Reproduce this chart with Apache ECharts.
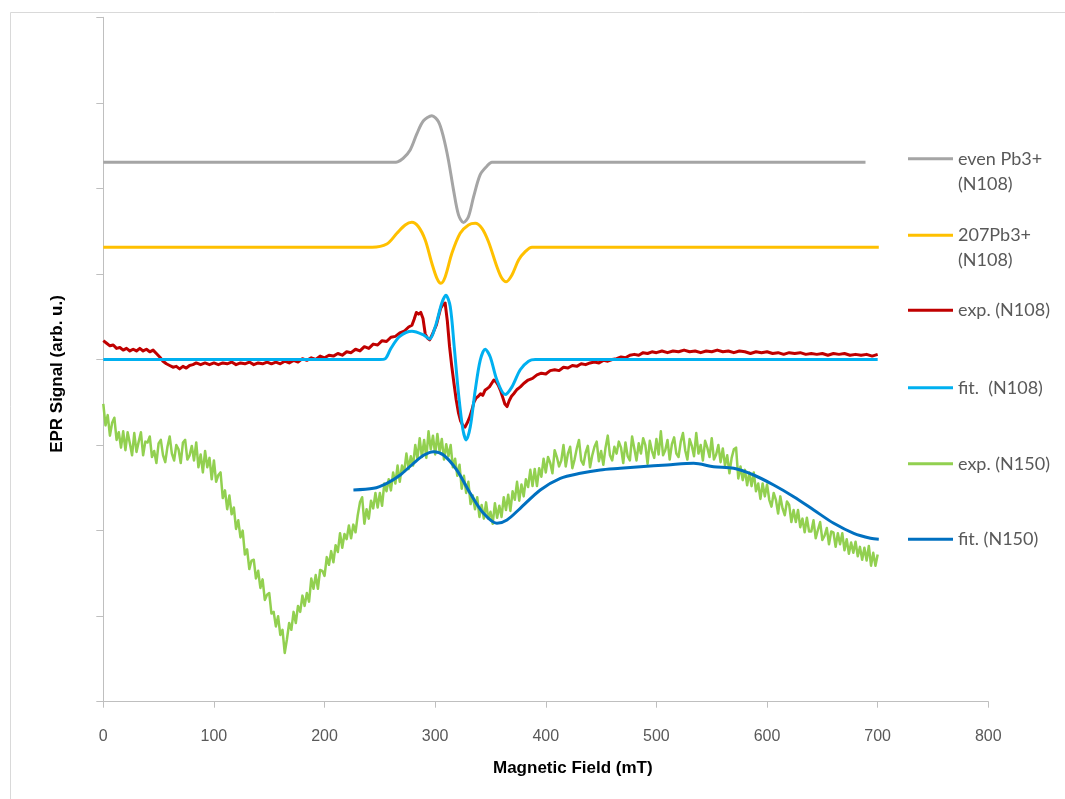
<!DOCTYPE html>
<html>
<head>
<meta charset="utf-8">
<script src="https://cdn.jsdelivr.net/npm/echarts@6/dist/echarts.min.js"></script>
<style>
  html, body { margin: 0; padding: 0; background: #ffffff; }
  #chart { width: 1065px; height: 799px; }
</style>
</head>
<body>
<div id="chart"></div>
<script>
// Magnetic field (mT) and EPR signal (arb. u.) for each trace.

// even Pb3+ simulation (N108)
const evenField  = [0, 262, 266, 271, 277.4, 283.5, 289.4, 297, 303, 307.5, 312, 316.6, 321.1, 325.6, 330.1, 334.7, 340.7, 346.8, 351.3, 689];
const evenSignal = [6.305, 6.305, 6.31, 6.35, 6.45, 6.64, 6.79, 6.85, 6.78, 6.60, 6.33, 5.98, 5.69, 5.60, 5.67, 5.90, 6.16, 6.26, 6.305, 6.305];

// 207Pb3+ simulation (N108)
const pb207Field  = [0, 243, 256.3, 265.4, 272.9, 278.9, 284.9, 291, 297, 301.6, 305.2, 309.1, 315.1, 322.6, 330.1, 336.2, 342.3, 348.2, 355.8, 360.3, 364.2, 369.4, 375.4, 381.4, 387.5, 701];
const pb207Signal = [5.312, 5.312, 5.35, 5.475, 5.572, 5.604, 5.552, 5.397, 5.125, 4.949, 4.891, 4.968, 5.241, 5.475, 5.572, 5.592, 5.534, 5.377, 5.085, 4.949, 4.909, 4.988, 5.163, 5.26, 5.312, 5.312];

// measured spectrum (N108)
const expN108Field = [
  0, 3, 6, 9, 12, 15, 18, 21, 24, 27, 30, 33, 36, 39, 42, 45, 48, 51, 54, 57,
  60, 63, 66, 69, 72, 75, 78, 81, 84, 88, 92, 96, 100, 104, 108, 112, 116, 120, 124, 128,
  132, 136, 140, 144, 148, 152, 156, 160, 164, 168, 172, 176, 180, 184, 188, 192, 196, 200, 204, 208,
  212, 216, 220, 224, 228, 232, 236, 240, 244, 248, 252, 256, 260, 264, 268, 272, 276, 279, 281, 283,
  285, 287, 289, 291, 293, 295, 297, 299, 301, 303, 305, 307, 309, 311, 313, 315, 317, 319, 321, 323,
  325, 327, 329, 331, 333, 335, 337, 339, 341, 343, 345, 347, 349, 351, 353, 355, 357, 359, 361, 363,
  365, 367, 369, 371, 374, 377, 380, 384, 388, 392, 396, 400, 404, 408, 412, 416, 420, 424, 428, 432,
  436, 440, 444, 448, 452, 456, 460, 464, 468, 472, 476, 480, 484, 488, 492, 496, 500, 505, 510, 515,
  520, 525, 530, 535, 540, 545, 550, 555, 560, 565, 570, 575, 580, 585, 590, 595, 600, 605, 610, 615,
  620, 625, 630, 635, 640, 645, 650, 655, 660, 665, 670, 675, 680, 685, 690, 695, 700
];
const expN108Signal = [
  4.22, 4.19, 4.16, 4.17, 4.13, 4.14, 4.11, 4.13, 4.10, 4.12, 4.10, 4.13, 4.10, 4.12, 4.09, 4.11, 4.07, 4.03, 3.98, 3.95,
  3.93, 3.91, 3.92, 3.89, 3.92, 3.90, 3.93, 3.94, 3.96, 3.94, 3.96, 3.94, 3.96, 3.94, 3.96, 3.95, 3.97, 3.94, 3.96, 3.95,
  3.97, 3.94, 3.96, 3.95, 3.97, 3.95, 3.97, 3.95, 3.98, 3.96, 3.99, 3.97, 4.01, 3.99, 4.02, 4.00, 4.04, 4.02, 4.05, 4.04,
  4.07, 4.05, 4.09, 4.08, 4.12, 4.10, 4.15, 4.13, 4.18, 4.17, 4.22, 4.21, 4.26, 4.27, 4.31, 4.33, 4.38, 4.40, 4.47, 4.55,
  4.53, 4.55, 4.48, 4.30, 4.25, 4.23, 4.28, 4.34, 4.40, 4.50, 4.60, 4.64, 4.66, 4.45, 4.15, 3.92, 3.72, 3.53, 3.38, 3.28,
  3.23, 3.21, 3.26, 3.32, 3.40, 3.50, 3.55, 3.57, 3.60, 3.58, 3.64, 3.66, 3.68, 3.72, 3.76, 3.74, 3.70, 3.64, 3.56, 3.48,
  3.45, 3.52, 3.57, 3.60, 3.65, 3.68, 3.72, 3.76, 3.78, 3.82, 3.84, 3.83, 3.87, 3.88, 3.87, 3.91, 3.90, 3.93, 3.92, 3.95,
  3.94, 3.96, 3.97, 3.96, 3.99, 3.98, 4.00, 4.01, 4.03, 4.02, 4.05, 4.06, 4.05, 4.08, 4.07, 4.09, 4.08, 4.10, 4.08, 4.10,
  4.09, 4.11, 4.09, 4.10, 4.08, 4.10, 4.09, 4.11, 4.09, 4.10, 4.08, 4.10, 4.09, 4.07, 4.09, 4.08, 4.09, 4.07, 4.08, 4.06,
  4.08, 4.07, 4.08, 4.06, 4.07, 4.06, 4.07, 4.05, 4.07, 4.06, 4.07, 4.05, 4.06, 4.05, 4.06, 4.04, 4.06
];

// fitted spectrum (N108)
const fitN108Field  = [0, 250, 255, 260, 268, 279, 289, 295, 300, 306, 309.7, 313.6, 317.2, 321.1, 325.1, 328.1, 331.7, 336.2, 340.7, 345.2, 349.8, 355.8, 363.3, 369.4, 376.9, 384.4, 390.5, 700];
const fitN108Signal = [4.0, 4.0, 4.01, 4.13, 4.27, 4.33, 4.29, 4.24, 4.38, 4.66, 4.75, 4.62, 4.15, 3.60, 3.18, 3.06, 3.21, 3.64, 3.99, 4.12, 4.03, 3.76, 3.59, 3.68, 3.88, 3.98, 4.0, 4.0];

// measured spectrum (N150), one reading every 2 mT from 0 to 700 mT
const expN150Start = 0;
const expN150End = 700;
const expN150Signal = [
  3.48, 3.23, 3.35, 3.11, 3.26, 3.32, 3.06, 3.15, 2.97, 3.16,
  2.94, 3.15, 3.02, 2.88, 3.14, 2.92, 3.04, 3.15, 2.88, 3.04,
  3.03, 3.10, 2.86, 2.93, 2.79, 3.02, 3.06, 2.88, 2.80, 2.98,
  3.10, 2.90, 2.82, 3.00, 2.95, 2.79, 3.03, 3.06, 2.83, 2.88,
  2.99, 2.82, 3.03, 2.74, 2.89, 2.68, 2.93, 2.74, 2.85, 2.60,
  2.82, 2.57, 2.65, 2.68, 2.38, 2.47, 2.25, 2.41, 2.19, 2.27,
  2.02, 2.12, 1.92, 2.00, 1.72, 1.78, 1.55, 1.65, 1.66, 1.44,
  1.53, 1.33, 1.43, 1.19, 1.25, 1.27, 1.03, 1.05, 0.88, 1.00,
  0.78, 0.84, 0.57, 0.73, 0.92, 0.84, 1.05, 0.92, 1.12, 1.05,
  1.24, 1.12, 1.27, 1.17, 1.44, 1.32, 1.48, 1.32, 1.54, 1.53,
  1.47, 1.69, 1.60, 1.76, 1.63, 1.83, 1.75, 1.97, 1.80, 1.96,
  1.90, 2.06, 1.91, 2.07, 1.98, 2.18, 2.33, 2.39, 2.08, 2.25,
  2.14, 2.35, 2.26, 2.44, 2.27, 2.44, 2.29, 2.55, 2.46, 2.60,
  2.47, 2.68, 2.55, 2.76, 2.57, 2.76, 2.69, 2.90, 2.72, 2.87,
  2.76, 3.00, 2.84, 3.08, 2.86, 3.06, 2.85, 3.16, 2.95, 3.11,
  2.89, 3.13, 2.92, 3.07, 2.83, 3.01, 2.87, 3.00, 2.74, 2.84,
  2.64, 2.77, 2.49, 2.64, 2.44, 2.57, 2.31, 2.41, 2.25, 2.39,
  2.16, 2.30, 2.14, 2.33, 2.14, 2.22, 2.08, 2.32, 2.15, 2.29,
  2.16, 2.39, 2.24, 2.42, 2.23, 2.46, 2.36, 2.57, 2.35, 2.54,
  2.40, 2.60, 2.51, 2.71, 2.52, 2.72, 2.52, 2.73, 2.63, 2.84,
  2.68, 2.86, 2.79, 2.67, 2.94, 2.86, 2.75, 2.82, 3.00, 2.75,
  2.90, 2.98, 2.73, 2.83, 2.96, 3.06, 2.82, 2.77, 2.91, 2.99,
  2.74, 2.88, 2.98, 3.04, 2.81, 2.93, 2.77, 2.97, 3.11, 2.88,
  2.82, 2.98, 2.90, 3.04, 2.97, 2.79, 3.03, 2.87, 2.82, 3.10,
  2.96, 2.82, 3.02, 2.90, 3.08, 3.00, 2.78, 3.05, 2.93, 2.85,
  3.07, 2.89, 3.16, 2.88, 2.94, 3.06, 2.83, 3.01, 3.09, 2.90,
  2.86, 3.04, 3.14, 2.94, 2.83, 3.07, 2.99, 2.87, 3.14, 2.90,
  3.00, 2.82, 3.05, 2.97, 2.86, 3.08, 2.83, 2.89, 3.00, 2.80,
  2.96, 2.76, 2.88, 2.67, 2.85, 2.95, 2.97, 2.61, 2.75, 2.59,
  2.71, 2.53, 2.68, 2.52, 2.68, 2.46, 2.55, 2.37, 2.55, 2.40,
  2.54, 2.36, 2.28, 2.44, 2.36, 2.20, 2.40, 2.26, 2.18, 2.34,
  2.30, 2.10, 2.24, 2.10, 2.24, 2.04, 2.14, 1.98, 2.15, 1.99,
  1.99, 2.12, 1.91, 2.01, 2.10, 1.89, 1.94, 2.03, 1.84, 1.99,
  1.98, 1.81, 1.97, 1.84, 1.97, 1.77, 1.90, 1.73, 1.86, 1.74,
  1.87, 1.70, 1.81, 1.66, 1.80, 1.65, 1.82, 1.59, 1.74, 1.59,
  1.72
];

// fitted spectrum (N150)
const fitN150Field  = [226.1, 244.2, 256.3, 268.4, 280.4, 289.5, 298.5, 307.5, 319.6, 331.7, 343.7, 355.8, 364.9, 376.9, 395, 413.1, 431.2, 449.2, 467.3, 485.4, 509.6, 533.6, 551.7, 569.8, 587.9, 606, 624.1, 642.2, 660.3, 678.4, 693.5, 701];
const fitN150Signal = [2.475, 2.494, 2.553, 2.650, 2.787, 2.88, 2.922, 2.884, 2.708, 2.436, 2.202, 2.085, 2.124, 2.261, 2.475, 2.611, 2.670, 2.709, 2.728, 2.747, 2.767, 2.787, 2.747, 2.728, 2.650, 2.533, 2.396, 2.241, 2.085, 1.968, 1.910, 1.898];

// legend entries; the two simulations carry a second line of text
const seriesNames = ['even Pb3+ (N108)', '207Pb3+ (N108)', 'exp. (N108)', 'fit.  (N108)', 'exp. (N150)', 'fit. (N150)'];
const legendFirstLine = { 'even Pb3+ (N108)': 'even Pb3+', '207Pb3+ (N108)': '207Pb3+' };
const legendSecondLine = { 'even Pb3+ (N108)': '(N108)', '207Pb3+ (N108)': '(N108)' };

const zip = (xs, ys) => ys.map((y, i) => [xs[i], y]);
const expN150Step = (expN150End - expN150Start) / (expN150Signal.length - 1);
const expN150Field = expN150Signal.map((_, i) => expN150Start + i * expN150Step);

const colors = ['#a5a5a5', '#ffc000', '#c00000', '#00b0f0', '#92d050', '#0070c0'];

function lineSeries(name, data, color, width, smooth) {
  return {
    name: name,
    type: 'line',
    data: data,
    symbol: 'none',
    smooth: smooth,
    lineStyle: { color: color, width: width, join: 'round' },
    itemStyle: { color: color },
    emphasis: { disabled: true }
  };
}

const legendFontSize = 18;
const legendFont = { fontFamily: 'Lato', fontSize: legendFontSize, color: '#595959' };
const legendLeft = 908;
const legendIconW = 45;
const legendTextGap = 4;
const legendCenters = [158.7, 235.3, 310.3, 387.7, 463.7, 539.3];
const legendSecondOffset = 25;
const legendIconH = 3;
// a legend row is as tall as its text; shift it so the swatch sits on the row centre
const legendRowHalf = legendFontSize / 2;

const legends = seriesNames.map((name, i) => ({
  data: [{ name: name, icon: 'rect' }],
  left: legendLeft,
  top: legendCenters[i] - legendRowHalf,
  padding: 0,
  itemWidth: legendIconW,
  itemHeight: legendIconH,
  itemGap: 0,
  textGap: legendTextGap,
  selectedMode: false,
  formatter: n => legendFirstLine[n] || n,
  textStyle: legendFont
}));

const secondLines = seriesNames
  .map((name, i) => ({ name, i }))
  .filter(d => legendSecondLine[d.name])
  .map(d => ({
    type: 'text',
    silent: true,
    x: legendLeft + legendIconW + legendTextGap + 1,
    y: legendCenters[d.i] + legendSecondOffset,
    style: { text: legendSecondLine[d.name], verticalAlign: 'middle', align: 'left',
             font: legendFontSize + 'px Lato', fill: legendFont.color }
  }));

const chart = echarts.init(document.getElementById('chart'), null, { renderer: 'canvas' });
chart.setOption({
  animation: false,
  backgroundColor: '#ffffff',
  grid: { left: 103.3, right: 76.7, top: 17.3, bottom: 97.3, containLabel: false },
  xAxis: {
    type: 'value',
    min: 0, max: 800, interval: 100,
    name: 'Magnetic Field (mT)',
    nameLocation: 'middle',
    nameGap: 58,
    nameTextStyle: { fontFamily: 'Liberation Sans', fontSize: 17, fontWeight: 'bold', color: '#000000', padding: [0, 0, 0, 54] },
    axisLine: { lineStyle: { color: '#bfbfbf', width: 1 } },
    axisTick: { show: true, inside: false, length: 6, lineStyle: { color: '#bfbfbf' } },
    axisLabel: { fontFamily: 'Liberation Sans', fontSize: 16, color: '#595959', margin: 27 },
    splitLine: { show: false }
  },
  yAxis: {
    type: 'value',
    min: 0, max: 8, interval: 1,
    name: 'EPR Signal (arb. u.)',
    nameLocation: 'middle',
    nameGap: 37,
    nameTextStyle: { fontFamily: 'Liberation Sans', fontSize: 17, fontWeight: 'bold', color: '#000000', padding: [0, 29, 0, 0] },
    axisLine: { show: true, lineStyle: { color: '#bfbfbf', width: 1 } },
    axisTick: { show: true, inside: false, length: 7, lineStyle: { color: '#bfbfbf' } },
    axisLabel: { show: false },
    splitLine: { show: false }
  },
  legend: legends,
  graphic: [{
    type: 'rect',
    silent: true,
    shape: { x: 10.5, y: 12.5, width: 1200, height: 900 },
    style: { fill: 'none', stroke: '#d9d9d9', lineWidth: 1 },
    z: -10
  }].concat(secondLines),
  series: [
    lineSeries(seriesNames[0], zip(evenField, evenSignal), colors[0], 3, 0.3),
    lineSeries(seriesNames[1], zip(pb207Field, pb207Signal), colors[1], 3, 0.3),
    lineSeries(seriesNames[2], zip(expN108Field, expN108Signal), colors[2], 3, false),
    lineSeries(seriesNames[3], zip(fitN108Field, fitN108Signal), colors[3], 3, 0.3),
    lineSeries(seriesNames[4], zip(expN150Field, expN150Signal), colors[4], 2.5, false),
    lineSeries(seriesNames[5], zip(fitN150Field, fitN150Signal), colors[5], 3, 0.3)
  ]
});
</script>
</body>
</html>
